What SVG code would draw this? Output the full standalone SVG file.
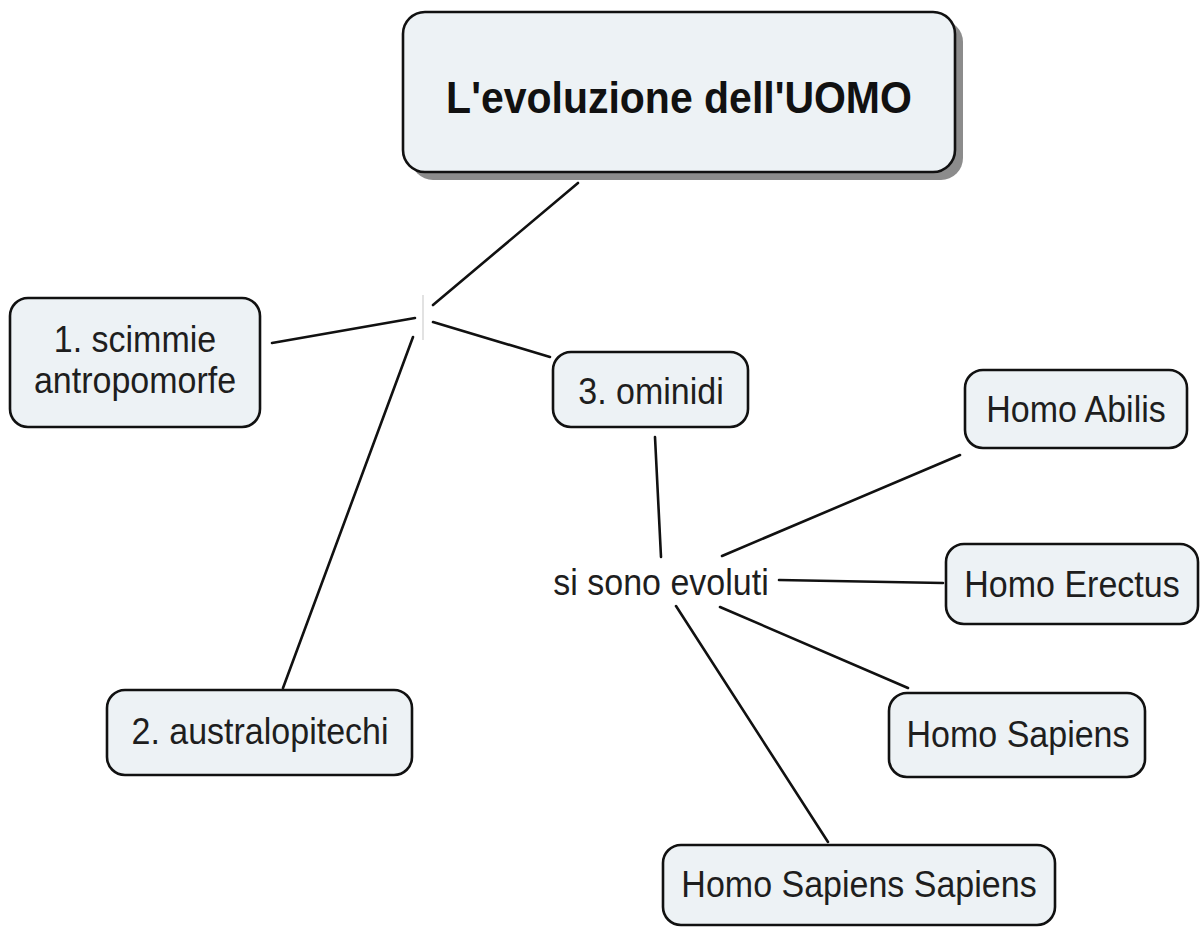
<svg xmlns="http://www.w3.org/2000/svg" width="1203" height="929" viewBox="0 0 1203 929">
<style>
.box{fill:#edf2f5;stroke:#111;stroke-width:2.6}
.shadow{fill:#8c8c8c}
.t{font-family:"Liberation Sans",Arial,sans-serif;font-size:34px;fill:#1e1e1e;text-anchor:middle}
.title{font-family:"Liberation Sans",Arial,sans-serif;font-size:41px;font-weight:bold;fill:#111;text-anchor:middle}
.c{stroke:#111;stroke-width:2.6;fill:none;stroke-linecap:round}
</style>
<rect width="1203" height="929" fill="#fff"/>
<g id="connectors">
<line class="c" x1="578" y1="183" x2="433" y2="305"/>
<line class="c" x1="415" y1="318" x2="272" y2="343"/>
<line class="c" x1="433" y1="322" x2="550" y2="357"/>
<line class="c" x1="413" y1="337" x2="283" y2="688"/>
<line x1="423" y1="295" x2="423" y2="340" stroke="#d8d8d8" stroke-width="1.5"/>
<line class="c" x1="655" y1="437" x2="661" y2="557"/>
<line class="c" x1="722" y1="556" x2="960" y2="455"/>
<line class="c" x1="779" y1="580" x2="943" y2="583"/>
<line class="c" x1="720" y1="607" x2="908" y2="688"/>
<line class="c" x1="676" y1="606" x2="828" y2="842"/>
</g>
<g id="title">
<rect class="shadow" x="411" y="20" width="552" height="160" rx="22"/>
<rect class="box" x="403" y="12" width="552" height="160" rx="22"/>
<text class="title" transform="translate(679,113) scale(1,1.1)">L'evoluzione dell'UOMO</text>
</g>
<g id="scimmie">
<rect class="box" x="10" y="298" width="250" height="129" rx="18"/>
<text class="t" transform="translate(135,352) scale(1,1.1)">1. scimmie</text>
<text class="t" transform="translate(135,393) scale(1,1.1)">antropomorfe</text>
</g>
<g id="ominidi">
<rect class="box" x="553" y="352" width="195" height="75" rx="18"/>
<text class="t" transform="translate(651,404) scale(1,1.1)">3. ominidi</text>
</g>
<g id="australopitechi">
<rect class="box" x="107" y="690" width="305" height="85" rx="18"/>
<text class="t" transform="translate(260,744) scale(1,1.1)">2. australopitechi</text>
</g>
<g id="label">
<text class="t" transform="translate(661,595) scale(1,1.1)">si sono evoluti</text>
</g>
<g id="abilis">
<rect class="box" x="965" y="370" width="222" height="78" rx="18"/>
<text class="t" transform="translate(1076,422) scale(1,1.1)">Homo Abilis</text>
</g>
<g id="erectus">
<rect class="box" x="946" y="544" width="252" height="80" rx="18"/>
<text class="t" transform="translate(1072,597) scale(1,1.1)">Homo Erectus</text>
</g>
<g id="sapiens">
<rect class="box" x="889" y="693" width="256" height="84" rx="18"/>
<text class="t" transform="translate(1018,747) scale(1,1.1)">Homo Sapiens</text>
</g>
<g id="sapiens-sapiens">
<rect class="box" x="663" y="845" width="392" height="80" rx="18"/>
<text class="t" transform="translate(859,897) scale(1,1.1)">Homo Sapiens Sapiens</text>
</g>
</svg>
